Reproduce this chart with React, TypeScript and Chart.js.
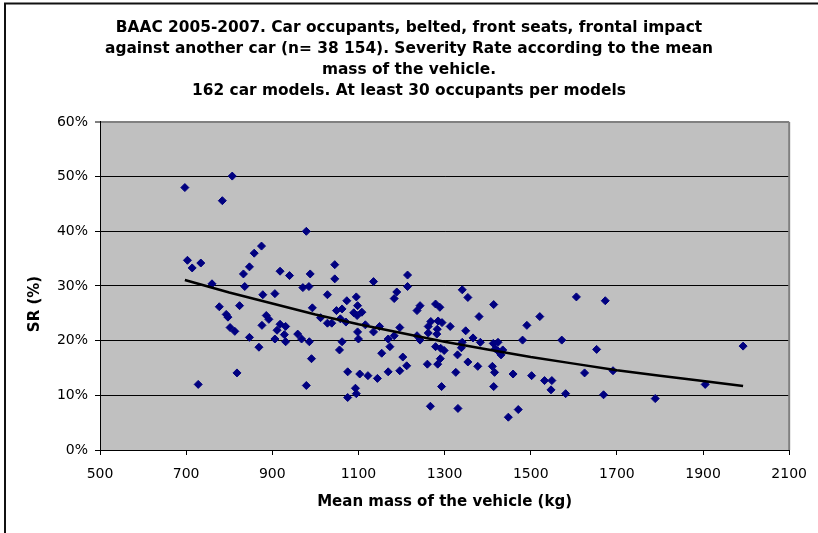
import React, { useEffect, useRef } from 'react';
import { Chart, registerables } from 'chart.js';

Chart.register(...registerables);

// ---- Data ----
const titleLines = [
  'BAAC 2005-2007. Car occupants, belted, front seats, frontal impact',
  'against another car (n= 38 154). Severity Rate according to the mean',
  'mass of the vehicle.',
  '162 car models. At least 30 occupants per models',
];
const xAxisTitle = 'Mean mass of the vehicle (kg)';
const yAxisTitle = 'SR (%)';

const xMin = 500;
const xMax = 2100;
const xStep = 200;
const yMin = 0;
const yMax = 60;
const yStep = 10;

// mean mass of each car model (kg)
const massKg = [
  697, 807, 784, 979, 703, 714, 734, 760, 875, 858,
  847, 833, 836, 918, 940, 988, 971, 985, 1045, 1045,
  878, 906, 1028, 1073, 1095, 1098, 777, 824, 993, 793,
  797, 802, 813, 847, 869, 886, 892, 876, 918, 931,
  911, 928, 906, 931, 959, 968, 986, 991, 1012, 1028,
  1038, 1049, 1062, 1058, 1071, 1089, 1097, 1108, 1116, 1098,
  1100, 1062, 1056, 818, 728, 979, 1075, 1103, 1122, 1093,
  1095, 1075, 1214, 1214, 1135, 1341, 1354, 1414, 1521, 1491,
  1380, 1189, 1183, 1243, 1236, 1279, 1289, 1268, 1285, 1294,
  1262, 1313, 1283, 1196, 1149, 1135, 1262, 1282, 1349, 1169,
  1183, 1236, 1243, 1366, 1383, 1341, 1413, 1424, 1481, 1173,
  1154, 1203, 1212, 1196, 1169, 1144, 1279, 1291, 1299, 1290,
  1284, 1260, 1330, 1354, 1377, 1326, 1293, 1267, 1331, 1339,
  1418, 1424, 1435, 1431, 1411, 1416, 1459, 1502, 1532, 1549,
  1547, 1414, 1448, 1471, 1606, 1673, 1572, 1653, 1993, 1625,
  1691, 1581, 1669, 1789, 1905,
];

// severity rate of each car model (%)
const severityPct = [
  48.0, 50.1, 45.6, 40.0, 34.7, 33.3, 34.2, 30.4, 37.3, 36.0,
  33.5, 32.2, 29.9, 32.7, 31.9, 32.2, 29.7, 29.9, 33.9, 31.3,
  28.4, 28.6, 28.4, 27.3, 28.0, 26.4, 26.2, 26.4, 26.0, 24.8,
  24.3, 22.4, 21.7, 20.6, 18.8, 24.6, 23.9, 22.8, 23.0, 22.6,
  21.9, 21.1, 20.3, 19.8, 21.2, 20.3, 19.8, 16.7, 24.2, 23.2,
  23.2, 25.5, 25.8, 24.0, 23.4, 25.1, 24.6, 25.2, 22.9, 21.6,
  20.3, 19.8, 18.3, 14.1, 12.0, 11.8, 14.3, 13.9, 13.6, 11.3,
  10.3, 9.6, 32.0, 29.9, 30.8, 29.3, 27.9, 26.6, 24.4, 22.8,
  24.4, 28.9, 27.7, 26.4, 25.5, 26.7, 26.1, 23.5, 23.6, 23.3,
  22.6, 22.6, 22.1, 22.4, 22.6, 21.6, 21.4, 21.2, 21.8, 20.3,
  20.9, 20.9, 20.1, 20.5, 19.7, 19.7, 19.5, 19.7, 20.1, 18.9,
  17.7, 17.0, 15.4, 14.5, 14.3, 13.1, 18.9, 18.6, 18.2, 16.7,
  15.7, 15.7, 17.4, 16.1, 15.3, 14.2, 11.6, 8.0, 7.6, 18.7,
  18.5, 18.1, 18.3, 17.4, 15.3, 14.2, 13.9, 13.6, 12.7, 12.7,
  11.0, 11.6, 6.0, 7.4, 28.0, 27.3, 20.1, 18.4, 19.0, 14.1,
  14.5, 10.3, 10.1, 9.4, 12.0,
];

// trend line
const trendMassKg = [697, 800, 900, 1000, 1100, 1200, 1300, 1400, 1500, 1600, 1700, 1800, 1900, 1993];
const trendPct = [31.1, 28.8, 26.8, 24.8, 23.0, 21.4, 19.8, 18.4, 17.0, 15.8, 14.6, 13.6, 12.6, 11.7];

const FONT = "'DejaVu Sans', Verdana, sans-serif";

const decorPlugin = {
  id: 'decor',
  beforeDraw(chart: any) {
    const { ctx, chartArea: a, width, height } = chart;
    ctx.save();
    ctx.fillStyle = '#C0C0C0';
    ctx.fillRect(a.left, a.top, a.right - a.left, a.bottom - a.top);
    // outer frame (top and left edges visible)
    ctx.strokeStyle = '#111';
    ctx.lineWidth = 2;
    ctx.beginPath();
    ctx.moveTo(5, height);
    ctx.lineTo(5, 3.5);
    ctx.lineTo(width, 3.5);
    ctx.stroke();
    ctx.restore();
  },
  beforeDatasetsDraw(chart: any) {
    const { ctx, chartArea: a } = chart;
    ctx.save();
    ctx.strokeStyle = '#808080';
    ctx.lineWidth = 2;
    ctx.beginPath();
    ctx.moveTo(a.right, a.top);
    ctx.lineTo(a.right, a.bottom);
    ctx.stroke();
    // y axis title
    ctx.translate(35, 304);
    ctx.rotate(-Math.PI / 2);
    ctx.fillStyle = '#000';
    ctx.font = `bold 15px ${FONT}`;
    ctx.textAlign = 'center';
    ctx.textBaseline = 'middle';
    ctx.fillText(yAxisTitle, 0, 0);
    ctx.restore();
  },
};

export default function App() {
  const ref = useRef<HTMLCanvasElement>(null);

  useEffect(() => {
    if (!ref.current) return;
    const points = massKg.map((m, i) => ({ x: m, y: severityPct[i] }));
    const trend = trendMassKg.map((m, i) => ({ x: m, y: trendPct[i] }));

    const chart = new Chart(ref.current, {
      type: 'scatter',
      data: {
        datasets: [
          {
            type: 'line',
            data: trend,
            borderColor: '#000',
            borderWidth: 2.5,
            pointRadius: 0,
            fill: false,
            tension: 0,
          } as any,
          {
            data: points,
            pointStyle: 'rectRot',
            pointRadius: 4,
            pointBorderWidth: 1,
            backgroundColor: '#000080',
            borderColor: '#000080',
          },
        ],
      },
      plugins: [decorPlugin],
      options: {
        responsive: false,
        animation: false,
        devicePixelRatio: 1,
        layout: { padding: { left: 25, right: 25, top: 0, bottom: 0 } },
        plugins: {
          legend: { display: false },
          tooltip: { enabled: false },
          title: {
            display: true,
            text: titleLines,
            color: '#000',
            font: { family: FONT, size: 15.4, weight: 'bold', lineHeight: 1.35 },
            padding: { top: 18, bottom: 20.8 },
          },
        },
        scales: {
          x: {
            type: 'linear',
            min: xMin,
            max: xMax,
            afterFit: (s: any) => {
              s.height = 83;
            },
            ticks: {
              stepSize: xStep,
              color: '#000',
              font: { family: FONT, size: 14 },
              padding: 11,
              maxRotation: 0,
              callback: (v: any) => String(v),
            },
            grid: {
              drawOnChartArea: false,
              drawTicks: true,
              tickLength: 5,
              color: '#000',
              tickColor: '#000',
            },
            border: { display: true, color: '#000', width: 1 },
            title: {
              display: true,
              text: xAxisTitle,
              color: '#000',
              font: { family: FONT, size: 15, weight: 'bold' },
              padding: { top: 0, bottom: 21.5 },
            },
          },
          y: {
            type: 'linear',
            min: yMin,
            max: yMax,
            afterFit: (s: any) => {
              s.width = 75;
            },
            ticks: {
              stepSize: yStep,
              color: '#000',
              font: { family: FONT, size: 14 },
              padding: 7,
              callback: (v: any) => `${v}%`,
            },
            grid: {
              drawOnChartArea: true,
              drawTicks: true,
              tickLength: 5,
              color: (c: any) => (c.tick && c.tick.value === yMax ? '#808080' : '#000'),
              lineWidth: (c: any) => (c.tick && c.tick.value === yMax ? 2 : 1),
              tickColor: '#000',
              tickWidth: 1,
            },
            border: { display: true, color: '#000', width: 1 },
          },
        },
      } as any,
    });
    return () => chart.destroy();
  }, []);

  return (
    <div style={{ position: 'fixed', left: 0, top: 0, width: 818, height: 533, background: '#fff' }}>
      <canvas ref={ref} width={818} height={533} style={{ display: 'block', width: 818, height: 533 }} />
    </div>
  );
}
